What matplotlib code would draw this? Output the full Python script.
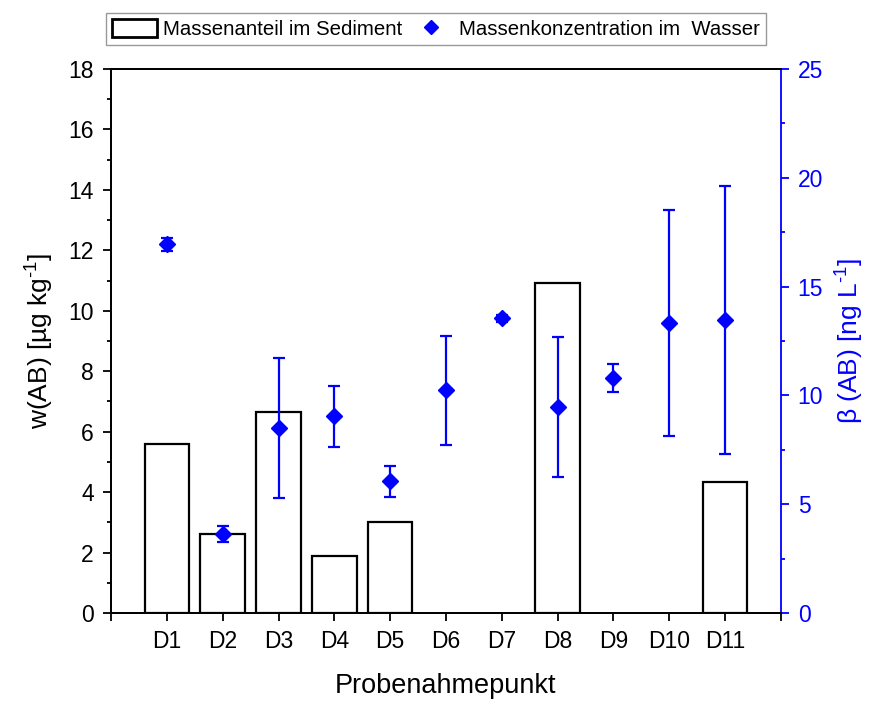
import matplotlib
matplotlib.use("Agg")
import matplotlib.pyplot as plt
from matplotlib.lines import Line2D
from matplotlib.patches import Patch
import numpy as np

plt.rcParams['font.family'] = ['Liberation Sans', 'DejaVu Sans']
plt.rcParams['mathtext.fontset'] = 'custom'
plt.rcParams['mathtext.rm'] = 'Liberation Sans'
plt.rcParams['mathtext.it'] = 'Liberation Sans:italic'
plt.rcParams['mathtext.default'] = 'regular'

# Sampling points
sites = ['D1', 'D2', 'D3', 'D4', 'D5', 'D6', 'D7', 'D8', 'D9', 'D10', 'D11']
# Mass fraction in sediment [µg/kg] (0 = not detected)
sediment = [5.60, 2.61, 6.64, 1.88, 3.02, 0.0, 0.0, 10.93, 0.0, 0.0, 4.33]
# Mass concentration in water [ng/L] with standard deviation
water = [16.95, 3.62, 8.50, 9.04, 6.05, 10.24, 13.54, 9.45, 10.79, 13.33, 13.47]
water_sd = [0.30, 0.37, 3.20, 1.41, 0.70, 2.50, 0.15, 3.22, 0.65, 5.18, 6.15]

blue = '#0000FF'

fig = plt.figure(figsize=(8.69, 7.02), dpi=100)
ax = fig.add_axes([111/869, 1-613/702, (781-111)/869, (613-69)/702])
ax2 = ax.twinx()

x = np.arange(1, len(sites) + 1)
bars = ax.bar(x, sediment, width=0.8, facecolor='white', edgecolor='black',
              linewidth=1.6, zorder=2)
for b, v in zip(bars, sediment):
    if v == 0:
        b.set_visible(False)

ax2.errorbar(x, water, yerr=water_sd, fmt='D', color=blue, markersize=8,
             elinewidth=1.6, capsize=4.5, capthick=1.6, zorder=3)

ax.set_xlim(0, 12)
ax.set_ylim(0, 18)
ax2.set_ylim(0, 25)

ax.set_xticks(range(0, 13))
ax.set_xticklabels([''] + sites + [''])
ax.set_yticks(np.arange(0, 19, 2))
ax.set_yticks(np.arange(0, 19, 1), minor=True)
ax2.set_yticks(np.arange(0, 26, 5))
ax2.set_yticks(np.arange(0, 26, 2.5), minor=True)

ax.tick_params(axis='both', which='major', direction='out', length=6, width=1.3,
               labelsize=16.5, pad=6.5)
ax.tick_params(axis='y', which='minor', direction='out', length=3, width=1.3)
ax2.tick_params(axis='y', which='major', direction='out', length=6, width=1.3,
                labelsize=16.5, colors=blue, pad=6)
ax2.tick_params(axis='y', which='minor', direction='out', length=3, width=1.3, colors=blue)

for s in ['left', 'bottom', 'top']:
    ax.spines[s].set_linewidth(1.3)
    ax2.spines[s].set_linewidth(1.3)
ax2.spines['right'].set_color(blue)
ax2.spines['right'].set_linewidth(1.3)
ax.spines['right'].set_visible(False)

ax.set_xlabel('Probenahmepunkt', fontsize=19.5, labelpad=14)
ax.set_ylabel(r'w(AB) [µg kg$^{\text{-}1}$]', fontsize=19, labelpad=9)
ax2.set_ylabel(r'β (AB) [ng L$^{\text{-}1}$]', fontsize=19, color=blue, labelpad=8)

handles = [Patch(facecolor='white', edgecolor='black', linewidth=2.0),
           Line2D([], [], marker='D', color=blue, linestyle='none', markersize=7.5)]
labels = ['Massenanteil im Sediment', 'Massenkonzentration im  Wasser']
fig.legend(handles, labels, loc='upper center', bbox_to_anchor=(436/869, 1-13/702),
           ncol=2, fontsize=14.7, frameon=True, fancybox=False, edgecolor='#999999',
           framealpha=1, borderpad=0.3, handlelength=2.2, handleheight=1.0,
           columnspacing=0.3, handletextpad=0.3, borderaxespad=0)

fig.savefig('out.png', dpi=100)
